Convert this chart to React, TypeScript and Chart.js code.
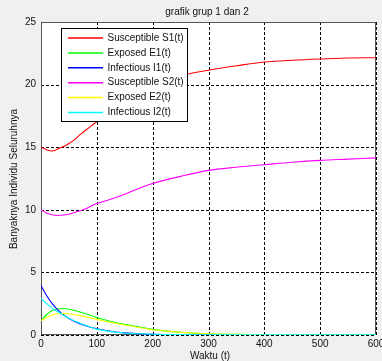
import React, { useEffect, useRef } from 'react';
import { Chart, registerables } from 'chart.js';

Chart.register(...registerables);

const titleText = 'grafik grup 1 dan 2';
const xLabel = 'Waktu (t)';
const yLabel = 'Banyaknya Individu Seluruhnya';

const times = [0, 10, 20, 30, 40, 50, 60, 70, 80, 90, 100, 125, 150, 175, 200, 250, 300, 350, 400, 450, 500, 550, 600];
const s1 = [15.0, 14.8, 14.7, 14.85, 15.05, 15.3, 15.6, 16.0, 16.35, 16.7, 17.05, 17.95, 18.75, 19.4, 19.95, 20.7, 21.15, 21.5, 21.8, 21.95, 22.05, 22.12, 22.15];
const e1 = [1.15, 1.62, 1.95, 2.08, 2.12, 2.05, 1.95, 1.83, 1.7, 1.55, 1.4, 1.08, 0.85, 0.66, 0.45, 0.22, 0.1, 0.05, 0.02, 0.01, 0, 0, 0];
const i1 = [3.95, 3.15, 2.5, 2.0, 1.62, 1.32, 1.08, 0.9, 0.74, 0.6, 0.5, 0.3, 0.17, 0.1, 0.05, 0.02, 0.01, 0, 0, 0, 0, 0, 0];
const s2 = [10.0, 9.75, 9.6, 9.55, 9.58, 9.65, 9.78, 9.92, 10.08, 10.3, 10.5, 10.85, 11.25, 11.7, 12.1, 12.67, 13.15, 13.4, 13.6, 13.8, 13.95, 14.05, 14.15];
const e2 = [1.15, 1.4, 1.6, 1.7, 1.73, 1.7, 1.62, 1.55, 1.45, 1.35, 1.25, 1.0, 0.8, 0.6, 0.42, 0.22, 0.1, 0.05, 0.02, 0.01, 0, 0, 0];
const i2 = [2.93, 2.5, 2.15, 1.85, 1.58, 1.33, 1.12, 0.93, 0.77, 0.6, 0.47, 0.27, 0.16, 0.1, 0.06, 0.03, 0.02, 0.01, 0.01, 0.01, 0.01, 0.01, 0.01];

const seriesLabels = ['Susceptible S1(t)', 'Exposed E1(t)', 'Infectious I1(t)', 'Susceptible S2(t)', 'Exposed E2(t)', 'Infectious I2(t)'];
const seriesValues = [s1, e1, i1, s2, e2, i2];
const seriesColors = ['#ff0000', '#00ff00', '#0000ff', '#ff00ff', '#ffff00', '#00ffff'];

const xMin = 0, xMax = 600, xStep = 100;
const yMin = 0, yMax = 25, yStep = 5;

const FONT = '"Liberation Sans", Arial, sans-serif';

const decorPlugin = {
  id: 'decor',
  beforeDraw(chart: any) {
    const { ctx, chartArea: a, width, height } = chart;
    ctx.save();
    ctx.fillStyle = '#f0f0f0';
    ctx.fillRect(0, 0, width, height);
    ctx.fillStyle = '#ffffff';
    ctx.fillRect(a.left, a.top, a.right - a.left, a.bottom - a.top);
    ctx.restore();
  },
  beforeDatasetsDraw(chart: any) {
    const { ctx, chartArea: a, scales } = chart;
    ctx.save();
    ctx.strokeStyle = '#000000';
    ctx.lineWidth = 1;
    ctx.setLineDash([3, 2]);
    scales.x.ticks.forEach((t: any) => {
      const px = Math.round(scales.x.getPixelForValue(t.value)) + 0.5;
      ctx.beginPath();
      ctx.moveTo(px, a.top);
      ctx.lineTo(px, a.bottom);
      ctx.stroke();
    });
    scales.y.ticks.forEach((t: any) => {
      const py = Math.round(scales.y.getPixelForValue(t.value)) + 0.5;
      ctx.beginPath();
      ctx.moveTo(a.left, py);
      ctx.lineTo(a.right, py);
      ctx.stroke();
    });
    ctx.strokeStyle = '#555555';
    ctx.setLineDash([]);
    ctx.strokeRect(Math.round(a.left) + 0.5, Math.round(a.top) + 0.5, Math.round(a.right - a.left) - 1, Math.round(a.bottom - a.top) - 1);
    ctx.restore();
  },
  afterDraw(chart: any) {
    const { ctx } = chart;
    ctx.save();
    ctx.fillStyle = '#111111';
    ctx.font = '10px ' + FONT;
    ctx.textAlign = 'center';
    ctx.textBaseline = 'middle';
    ctx.fillText(titleText, 207, 12);
    ctx.fillText(xLabel, 210, 356);
    ctx.save();
    ctx.translate(14, 179);
    ctx.rotate(-Math.PI / 2);
    ctx.fillText(yLabel, 0, 0);
    ctx.restore();

    const lx = 61.5, ly = 28.5, lw = 126, lh = 93;
    ctx.fillStyle = '#ffffff';
    ctx.fillRect(lx, ly, lw, lh);
    ctx.strokeStyle = '#000000';
    ctx.lineWidth = 1;
    ctx.strokeRect(lx, ly, lw, lh);
    ctx.textAlign = 'left';
    seriesLabels.forEach((lab, i) => {
      const y = 38 + i * 14.9;
      ctx.strokeStyle = seriesColors[i];
      ctx.lineWidth = 1.5;
      ctx.beginPath();
      ctx.moveTo(68, y);
      ctx.lineTo(103, y);
      ctx.stroke();
      ctx.fillStyle = '#111111';
      ctx.fillText(lab, 107.5, y);
    });
    ctx.restore();
  },
};

export default function App() {
  const ref = useRef<HTMLCanvasElement | null>(null);
  useEffect(() => {
    document.body.style.margin = '0';
    if (!ref.current) return;
    const chart = new Chart(ref.current, {
      type: 'line',
      data: {
        datasets: seriesValues.map((vals, i) => ({
          label: seriesLabels[i],
          data: times.map((t, j) => ({ x: t, y: vals[j] })),
          borderColor: seriesColors[i],
          backgroundColor: seriesColors[i],
          borderWidth: 1.1,
          pointRadius: 0,
          fill: false,
          cubicInterpolationMode: 'monotone' as const,
          order: seriesValues.length - i,
        })),
      },
      options: {
        animation: false,
        responsive: false,
        maintainAspectRatio: false,
        layout: { padding: { top: 22, right: 6, left: 0, bottom: 0 } },
        plugins: { legend: { display: false }, tooltip: { enabled: false }, title: { display: false } },
        scales: {
          x: {
            type: 'linear',
            min: xMin,
            max: xMax,
            afterFit: (s: any) => { s.height = 26; s.paddingLeft = 0; s.paddingRight = 0; },
            ticks: { stepSize: xStep, color: '#111', font: { size: 10, family: FONT }, padding: 3, maxRotation: 0 },
            grid: { display: false, drawTicks: false, tickLength: 0 },
            border: { display: false },
          },
          y: {
            type: 'linear',
            min: yMin,
            max: yMax,
            afterFit: (s: any) => { s.width = 41; s.paddingTop = 0; s.paddingBottom = 0; },
            ticks: { stepSize: yStep, color: '#111', font: { size: 10, family: FONT }, padding: 5 },
            grid: { display: false, drawTicks: false, tickLength: 0 },
            border: { display: false },
          },
        },
      },
      plugins: [decorPlugin],
    } as any);
    return () => chart.destroy();
  }, []);
  return <canvas ref={ref} width={382} height={361} style={{ display: 'block', width: 382, height: 361 }} />;
}
